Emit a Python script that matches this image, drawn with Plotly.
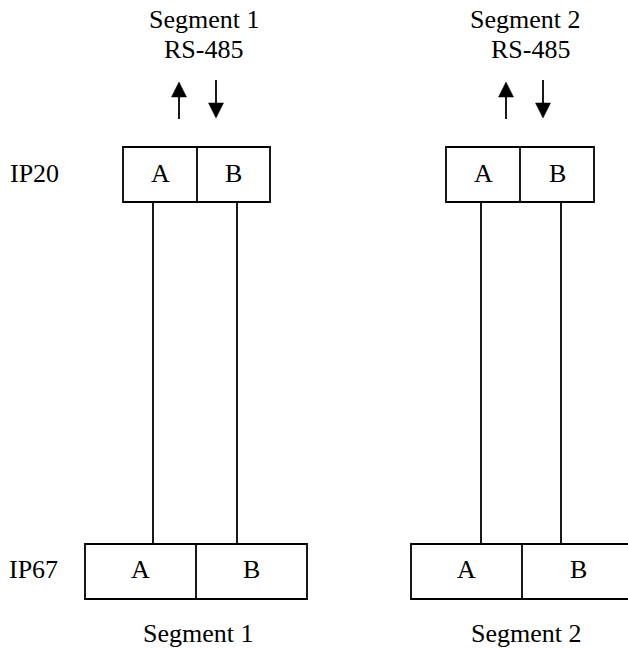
import plotly.graph_objects as go

# ---- content (labels) ----
segments = ["Segment 1", "Segment 2"]
bus_label = "RS-485"
levels = ["IP20", "IP67"]
terminals = ["A", "B"]

# ---- geometry (pixel-like diagram coordinates) ----
W, H = 628, 649
top_boxes = [dict(x0=123, xm=197, x1=270, y0=147, y1=202),
             dict(x0=446, xm=520, x1=594, y0=147, y1=202)]
bot_boxes = [dict(x0=85, xm=196, x1=307, y0=544, y1=599),
             dict(x0=411, xm=522, x1=634, y0=544, y1=599)]
wires = [(153, 237), (481, 561)]
arrows = [(179, 216), (506, 543)]
top_label_x = [(204, 203), (525, 530)]
bot_label_x = [198, 526]

LW = 1.8
FONT = dict(family="Liberation Serif, Times New Roman, serif", size=26, color="black")

fig = go.Figure()
fig.add_trace(go.Scatter(x=[0, W], y=[0, H], mode="markers",
                         marker=dict(opacity=0), hoverinfo="skip", showlegend=False))

shapes = []
annotations = []

def line(x0, y0, x1, y1):
    shapes.append(dict(type="line", x0=x0, y0=y0, x1=x1, y1=y1, xref="x", yref="y",
                       line=dict(color="black", width=LW)))

def box(b):
    shapes.append(dict(type="rect", x0=b["x0"], y0=b["y0"], x1=b["x1"], y1=b["y1"],
                       xref="x", yref="y", line=dict(color="black", width=LW)))
    line(b["xm"], b["y0"], b["xm"], b["y1"])

def text(x, y, s):
    annotations.append(dict(x=x, y=y, xref="x", yref="y", text=s, showarrow=False,
                            xanchor="center", yanchor="middle", font=FONT))

def arrow(x, y_tail, y_tip):
    hw, hl = 7.5, 15
    d = 1 if y_tip > y_tail else -1
    base = y_tip - d * hl
    line(x, y_tail, x, base)
    shapes.append(dict(type="path", xref="x", yref="y",
                       path=f"M {x-hw},{base} L {x+hw},{base} L {x},{y_tip} Z",
                       fillcolor="black", line=dict(color="black", width=0.5)))

for i, seg in enumerate(segments):
    tb, bb = top_boxes[i], bot_boxes[i]
    box(tb)
    box(bb)
    for wx in wires[i]:
        line(wx, tb["y1"], wx, bb["y0"])
    ux, dx = arrows[i]
    arrow(ux, 119, 82)
    arrow(dx, 80, 118)
    sx, rx = top_label_x[i]
    text(sx, 19, seg)
    text(rx, 49, bus_label)
    text(bot_label_x[i], 633, seg)
    text((tb["x0"] + tb["xm"]) / 2, 173, terminals[0])
    text((tb["xm"] + tb["x1"]) / 2, 173, terminals[1])
    text((bb["x0"] + bb["xm"]) / 2, 569, terminals[0])
    text((bb["xm"] + bb["x1"]) / 2, 569, terminals[1])

text(34, 173, levels[0])
text(33, 569, levels[1])

fig.update_layout(
    width=W, height=H, margin=dict(l=0, r=0, t=0, b=0),
    paper_bgcolor="white", plot_bgcolor="white",
    xaxis=dict(range=[0, W], visible=False, fixedrange=True),
    yaxis=dict(range=[H, 0], visible=False, fixedrange=True),
    shapes=shapes, annotations=annotations, showlegend=False,
)
fig.write_html("out.html", config={"displayModeBar": False},
               post_script="document.body.style.margin='0';document.body.style.overflow='hidden';")
